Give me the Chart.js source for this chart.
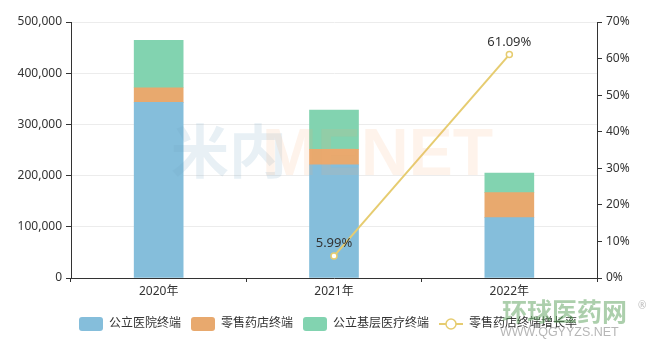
<!DOCTYPE html>
<html>
<head>
<meta charset="utf-8">
<script src="https://cdn.jsdelivr.net/npm/chart.js@4.4.1/dist/chart.umd.min.js"></script>
<style>
html,body{margin:0;padding:0;background:#fff;}
#c{display:block;}
</style>
</head>
<body>
<canvas id="c" width="656" height="353"></canvas>
<script>
const categories = ['2020年', '2021年', '2022年'];
const publicHospital = [343000, 220800, 117800];
const retailPharmacy = [28600, 30300, 48800];
const grassroots = [92500, 77000, 38500];
const retailGrowth = [null, 5.99, 61.09];
const seriesNames = ['公立医院终端', '零售药店终端', '公立基层医疗终端', '零售药店终端增长率'];
const leftTicks = [0, 100000, 200000, 300000, 400000, 500000];
const rightTicks = [0, 10, 20, 30, 40, 50, 60, 70];

const COLORS = ['#85bedb', '#e8a96e', '#82d3b0', '#e6cc70'];
const FONT = '"Noto Sans", "Noto Sans CJK SC", sans-serif';

function boxImage(color) {
  const c = document.createElement('canvas');
  c.width = 24; c.height = 14;
  const x = c.getContext('2d');
  x.fillStyle = color;
  x.beginPath();
  x.roundRect(0, 0, 24, 14, 3);
  x.fill();
  return c;
}
function lineImage(color) {
  const c = document.createElement('canvas');
  c.width = 24; c.height = 14;
  const x = c.getContext('2d');
  x.strokeStyle = color; x.lineWidth = 2;
  x.beginPath(); x.moveTo(0, 7); x.lineTo(24, 7); x.stroke();
  x.fillStyle = '#fff'; x.lineWidth = 1.5;
  x.beginPath(); x.arc(12, 7, 5, 0, Math.PI * 2); x.fill(); x.stroke();
  return c;
}
const legendImgs = [boxImage(COLORS[0]), boxImage(COLORS[1]), boxImage(COLORS[2]), lineImage(COLORS[3])];

const lineLabels = {
  id: 'lineLabels',
  afterDatasetsDraw(chart) {
    const meta = chart.getDatasetMeta(3);
    const ctx = chart.ctx;
    ctx.save();
    ctx.font = '13px ' + FONT;
    ctx.fillStyle = '#333';
    ctx.textAlign = 'center';
    ctx.textBaseline = 'bottom';
    meta.data.forEach((pt, i) => {
      const v = retailGrowth[i];
      if (v == null) return;
      ctx.fillText(v.toFixed(2) + '%', pt.x, pt.y - 6);
    });
    ctx.restore();
  }
};

const watermark = {
  id: 'watermark',
  afterDraw(chart) {
    const ctx = chart.ctx;
    ctx.save();
    ctx.textBaseline = 'alphabetic';
    ctx.font = 'bold 58px "Noto Sans CJK SC", sans-serif';
    ctx.fillStyle = 'rgba(110,160,195,0.16)';
    ctx.fillText('米内', 171, 173);
    ctx.font = 'bold 66px "Liberation Sans", sans-serif';
    ctx.fillStyle = 'rgba(245,170,110,0.14)';
    ctx.fillText('MENET', 262, 175);
    ctx.font = 'bold 25px "Noto Sans CJK SC", sans-serif';
    ctx.fillStyle = 'rgba(90,160,90,0.5)';
    ctx.fillText('环球医药网', 502, 321);
    ctx.font = '10px ' + FONT;
    ctx.fillStyle = 'rgba(120,120,120,0.5)';
    ctx.fillText('®', 638, 309);
    ctx.font = '12.5px "Liberation Sans", sans-serif';
    ctx.fillStyle = 'rgba(110,110,110,0.5)';
    ctx.fillText('WWW.QGYYZS.NET', 500, 336);
    ctx.restore();
  }
};

new Chart(document.getElementById('c'), {
  data: {
    labels: categories,
    datasets: [
      { type: 'bar', label: seriesNames[0], data: publicHospital, backgroundColor: COLORS[0], yAxisID: 'y', stack: 's', order: 2, barThickness: 49 },
      { type: 'bar', label: seriesNames[1], data: retailPharmacy, backgroundColor: COLORS[1], yAxisID: 'y', stack: 's', order: 2, barThickness: 49 },
      { type: 'bar', label: seriesNames[2], data: grassroots, backgroundColor: COLORS[2], yAxisID: 'y', stack: 's', order: 2, barThickness: 49 },
      { type: 'line', label: seriesNames[3], data: retailGrowth, yAxisID: 'y1', borderColor: COLORS[3], borderWidth: 2,
        pointRadius: 3, pointBackgroundColor: '#fff', pointBorderColor: COLORS[3], pointBorderWidth: 1.5, order: 1, spanGaps: false }
    ]
  },
  options: {
    responsive: false,
    animation: false,
    devicePixelRatio: 1,
    layout: { padding: { top: 22, left: 0, right: 0, bottom: 13 } },
    plugins: {
      tooltip: { enabled: false },
      legend: {
        position: 'bottom',
        labels: {
          usePointStyle: true,
          pointStyleWidth: 24,
          boxHeight: 14,
          padding: 10,
          color: '#333',
          font: { size: 12, family: FONT },
          sort: (a, b) => a.datasetIndex - b.datasetIndex,
          generateLabels(chart) {
            const items = Chart.defaults.plugins.legend.labels.generateLabels(chart);
            items.forEach(it => { it.pointStyle = legendImgs[it.datasetIndex]; });
            return items;
          }
        }
      }
    },
    scales: {
      x: {
        stacked: true,
        offset: true,
        grid: { offset: true, drawOnChartArea: false, drawTicks: true, tickLength: 4, tickColor: '#333' },
        border: { display: true, color: '#333' },
        ticks: { color: '#333', padding: 2, font: { size: 12, family: FONT } },
        afterFit(s) { s.height = 30; }
      },
      y: {
        position: 'left',
        stacked: true,
        min: 0, max: 500000,
        afterBuildTicks(s) { s.ticks = leftTicks.map(v => ({ value: v })); },
        grid: { color: '#ececec', tickColor: '#333', tickLength: 5 },
        border: { display: true, color: '#333' },
        ticks: { color: '#333', padding: 4, font: { size: 12, family: FONT },
          callback: v => v.toLocaleString('en-US') },
        afterFit(s) { s.width = 71; }
      },
      y1: {
        position: 'right',
        min: 0, max: 70,
        afterBuildTicks(s) { s.ticks = rightTicks.map(v => ({ value: v })); },
        grid: { drawOnChartArea: false, tickColor: '#333', tickLength: 5 },
        border: { display: true, color: '#333' },
        ticks: { color: '#333', padding: 4, font: { size: 12, family: FONT }, callback: v => v + '%' },
        afterFit(s) { s.width = 59; }
      }
    }
  },
  plugins: [lineLabels, watermark]
});
</script>
</body>
</html>
